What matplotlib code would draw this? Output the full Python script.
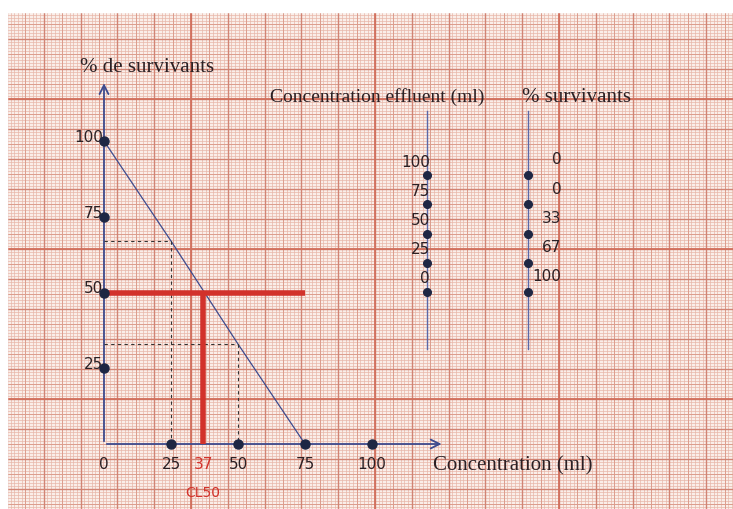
import numpy as np
import matplotlib
matplotlib.use("Agg")
import matplotlib.pyplot as plt

# ------------------------------------
# Data
# ------------------------------------
conc = [0, 25, 50, 75, 100]          # concentration effluent (ml)
surv = [100, 67, 33, 0, 0]           # % survivants
x_ticks = [0, 25, 37, 50, 75, 100]
y_ticks = [100, 75, 50, 25]
x_dots = [25, 50, 75, 100]
y_dots = [100, 75, 50, 25]
cl50 = 37
half = 50

W, H = 733, 510
fig = plt.figure(figsize=(W / 100, H / 100), dpi=100)
fig.patch.set_facecolor("white")

serif = ["Liberation Serif", "DejaVu Serif"]
nums = ["DejaVu Sans"]
ink = "#2b2024"
blue = "#3d4b8e"
dot = "#1e2744"
red = "#d2322b"


def fx(x):
    return x / W


def fy(y):
    return 1 - y / H


# ------------------------------------
# Graph paper background
# ------------------------------------
bg = fig.add_axes([0, 0, 1, 1])
bg.set_xlim(0, W)
bg.set_ylim(H, 0)
bg.axis("off")
bg.fill_between([7, W], 13, H, color="#faeee9", zorder=0)

cm_x, cm_y = 36.8, 30.0
y0 = 250 - 8 * cm_y
bg.vlines(np.arange(7, W, cm_x / 10), 13, H, color="#e8b6a9", lw=0.5, zorder=1)
bg.hlines(np.arange(y0, H, cm_y / 10), 7, W, color="#e8b6a9", lw=0.5, zorder=1)
bg.vlines(np.arange(7, W, cm_x / 2), 13, H, color="#dc9d8d", lw=0.7, zorder=1)
bg.hlines(np.arange(y0, H, cm_y / 2), 7, W, color="#dc9d8d", lw=0.7, zorder=1)
bg.vlines(np.arange(7, W, cm_x), 13, H, color="#d18474", lw=1.0, zorder=1)
bg.hlines(np.arange(y0, H, cm_y), 7, W, color="#d18474", lw=1.0, zorder=1)
bg.vlines(np.arange(7, W, cm_x * 5), 13, H, color="#d2705d", lw=1.3, zorder=1)
bg.hlines(np.arange(100, H, cm_y * 5), 7, W, color="#d2705d", lw=1.3, zorder=1)
bg.fill_between([0, W], 0, 13, color="white", zorder=2)
bg.fill_between([0, 7], 0, H, color="white", zorder=2)

# ------------------------------------
# Main chart: % survivants vs concentration
# ------------------------------------
ax = fig.add_axes([0, 0, 1, 1])
ax.patch.set_alpha(0)
ax.axis("off")
sx, sy = 2.68, 3.03
ax.set_xlim(-104 / sx, (W - 104) / sx)
ax.set_ylim(-(H - 445) / sy, 445 / sy)

# axes with arrows
ax.annotate("", xy=(0, 120), xytext=(0, 0),
            arrowprops=dict(arrowstyle="->", color=blue, lw=1.3, mutation_scale=16))
ax.annotate("", xy=(127, 0), xytext=(0, 0),
            arrowprops=dict(arrowstyle="->", color=blue, lw=1.3, mutation_scale=16))

# regression line
ax.plot(conc[:4], surv[:4], color=blue, lw=0.9, zorder=3)

# dashed reading lines
for c, s in zip(conc[1:3], surv[1:3]):
    ax.plot([0, c], [s, s], color="#333333", lw=0.8, ls=(0, (3, 3)), zorder=3)
    ax.plot([c, c], [s, 0], color="#333333", lw=0.8, ls=(0, (3, 3)), zorder=3)

# CL50 construction
ax.plot([0, 75], [half, half], color=red, lw=4, solid_capstyle="butt", zorder=4)
ax.plot([cl50, cl50], [0, half], color=red, lw=4, solid_capstyle="butt", zorder=4)

# dots on the axes
ax.plot(x_dots, [0] * len(x_dots), "o", color=dot, ms=6.5, zorder=5)
ax.plot([0] * len(y_dots), y_dots, "o", color=dot, ms=6.5, zorder=5)

for t in x_ticks:
    ax.text(t, -6.6, str(t), ha="center", va="center", fontsize=11,
            family=nums, color=red if t == cl50 else ink)
ax.text(cl50, -15.8, "CL50", ha="center", va="center", fontsize=10,
        family=nums, color=red)
for t in y_ticks:
    ax.text(-0.3, t + 1.5, str(t), ha="right", va="center", fontsize=11,
            family=nums, color=ink)

fig.text(fx(80), fy(68), "% de survivants", ha="left", va="center",
         fontsize=15, family=serif, color=ink)
fig.text(fx(433), fy(466), "Concentration (ml)", ha="left", va="center",
         fontsize=15, family=serif, color=ink)

# ------------------------------------
# Small table of values (largest concentration on top)
# ------------------------------------
tab = fig.add_axes([fx(380), fy(360), fx(600) - fx(380), (360 - 100) / H])
tab.patch.set_alpha(0)
tab.axis("off")
tab.set_xlim(-0.465, 1.713)
tab.set_ylim(6.29, -2.6)

rows = np.arange(len(conc))
for col in [0, 1]:
    tab.plot([col, col], [-2.19, 5.95], color="#5a68a8", lw=1, zorder=2)
    tab.plot([col] * len(rows), rows, "o", color=dot, ms=5.5, zorder=3)

for r, c in zip(rows, conc[::-1]):
    tab.text(0.03, r - 0.48, str(c), ha="right", va="center", fontsize=11,
             family=nums, color=ink)
for r, s in zip(rows, surv[::-1]):
    tab.text(1.33, r - 0.55, str(s), ha="right", va="center", fontsize=11,
             family=nums, color=ink)

fig.text(fx(270), fy(97), "Concentration effluent (ml)", ha="left", va="center",
         fontsize=14, family=serif, color=ink)
fig.text(fx(522), fy(97), "% survivants", ha="left", va="center",
         fontsize=15, family=serif, color=ink)

fig.savefig("out.png", dpi=100)
